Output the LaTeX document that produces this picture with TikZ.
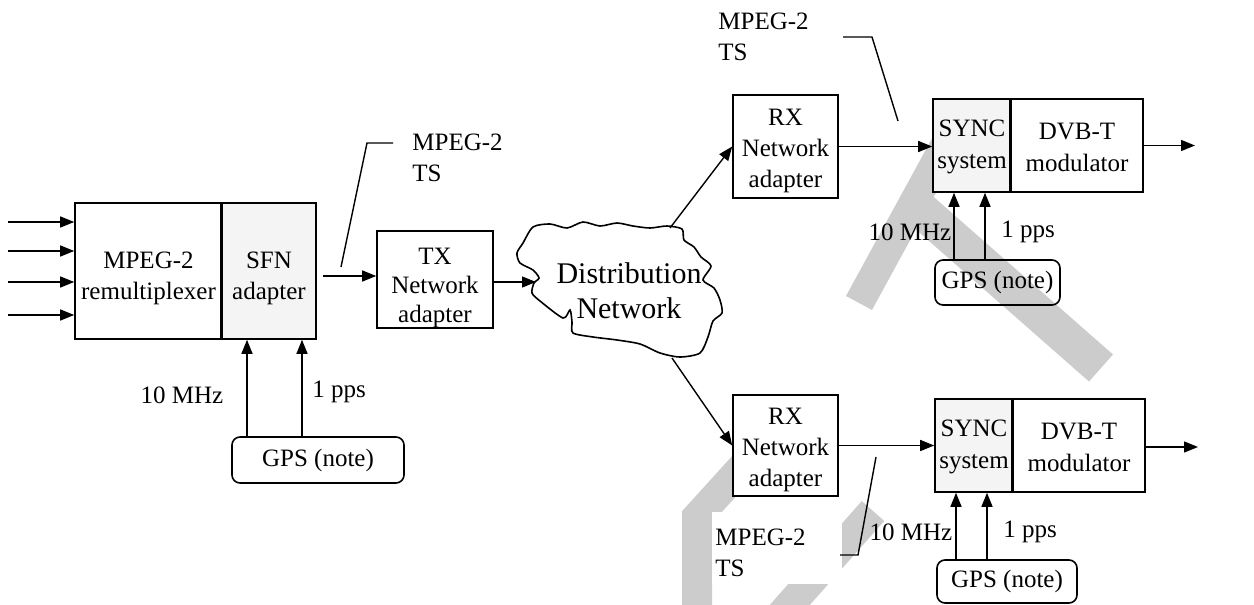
\documentclass[tikz,border=0pt]{standalone}
\usepackage{fontspec}
\setmainfont{Liberation Serif}
\usetikzlibrary{arrows.meta,calc}
\begin{document}
\begin{tikzpicture}[x=0.5pt,y=-0.5pt,
  every node/.style={font=\fontsize{12.5}{15.5}\selectfont},
  box/.style={draw, line width=0.8pt, inner sep=0pt, align=center, fill=white},
  tintbox/.style={box, fill=gray!9},
  gpsbox/.style={draw, line width=0.8pt, rounded corners=4pt, inner sep=0pt},
  arr/.style={line width=0.7pt, -{Triangle[length=7pt,width=5.5pt]}},
  lead/.style={line width=0.7pt},
  lbl/.style={inner sep=0pt},
  wmark/.style={fill=gray!40, draw=none},
  wband/.style={draw=gray!40, line width=15pt, line join=miter}]
\useasboundingbox (0,0) rectangle (1254,605);

% grey background bands
\begin{scope}
  \clip (0,0) rectangle (1254,605);
  \fill[wmark] (846,296) -- (872,310) -- (968,134) -- (942,120) -- cycle;
  \fill[wmark] (932,195.5) -- (1113,354.5) -- (1089,381.5) -- (908,222.5) -- cycle;
  \draw[wband] (776,430) -- (697,517) -- (697,610);
  \draw[wband] (873,511) -- (780,616);
\end{scope}

% head end
\node[box, minimum width=73.5pt, minimum height=68pt, text height=30.9pt] (remux) at (148.5,271) {MPEG-2\\remultiplexer};
\node[tintbox, minimum width=47pt, minimum height=68pt, text height=30.9pt] (sfn) at (269,271) {SFN\\adapter};
\draw[line width=1.1pt] (sfn.north west) -- (sfn.south west);
\node[gpsbox, minimum width=86pt, minimum height=23pt] (gpsl) at (318,460) {GPS (note)};
\node[lbl] (mhzl) at (182,395) {10 MHz};
\node[lbl] (ppsl) at (339,392) {1 pps};

\foreach \i/\y in {1/222,2/251,3/282,4/315}{
  \coordinate (in\i) at (8,\y);
  \draw[arr] (in\i) -- (in\i -| remux.west);
}
\coordinate (ckl) at (247,0);
\coordinate (pkl) at (302,0);
\draw[arr] (gpsl.north -| ckl) -- (sfn.south -| ckl);
\draw[arr] (gpsl.north -| pkl) -- (sfn.south -| pkl);

\node[box, minimum width=58pt, minimum height=48.5pt, text height=45.2pt,
      font=\fontsize{12.5}{14.5}\selectfont] (tx) at (435,279.5) {TX\\Network\\adapter};
\coordinate (tsout) at (323,276);
\draw[arr] (tsout) -- (tsout -| tx.west);

% MPEG-2 TS callout at the head end
\coordinate (l1a) at (341,267);
\coordinate (l1b) at (367,143);
\coordinate (l1c) at (393,143);
\draw[lead] (l1a) -- (l1b) -- (l1c);
\node[lbl, anchor=west, align=left] (ts1) at (412,157.5) {MPEG-2\\TS};

% distribution network cloud
\draw[line width=0.8pt] plot[smooth cycle, tension=0.45] coordinates {
  (533,227) (550,224) (567,228) (583,222) (600,226) (617,223) (633,226) (650,228)
  (667,226) (682,229) (684,240) (694,247) (701,257) (711,266) (703,280) (714,288)
  (720,300) (722,313) (713,321) (708,337) (700,353) (680,357) (660,353) (640,344)
  (617,340) (593,337) (573,333) (572,322) (570,310) (563,318) (540,301) (532,293)
  (534,283) (539,278) (533,270) (520,263) (517,253) (523,243)};
\node[align=center, inner sep=0pt, font=\fontsize{15}{17.5}\selectfont] (dist) at (629,291) {Distribution\\Network};
\coordinate (cin) at (536,282);
\draw[arr] (tx.east |- cin) -- (cin);

% upper transmitter
\node[box, minimum width=52.5pt, minimum height=51.5pt, text height=43.4pt] (rxt) at (785.5,146.5) {RX\\Network\\adapter};
\node[tintbox, minimum width=39pt, minimum height=46.5pt, font=\fontsize{12.5}{16}\selectfont, text height=26pt] (synct) at (972,145.5) {SYNC\\system};
\node[box, minimum width=66pt, minimum height=46.5pt, font=\fontsize{12.5}{16}\selectfont, text height=26pt] (dvbt) at (1077,145.5) {DVB-T\\modulator};
\draw[line width=1.3pt] (dvbt.north west) -- (dvbt.south west);
\node[gpsbox, minimum width=62.5pt, minimum height=22.5pt] (gpst) at (997.5,282.5) {GPS (note)};
\node[lbl] (mhzt) at (910,232) {10 MHz};
\node[lbl] (ppst) at (1028,232) {1 pps};
\coordinate (cup) at (670,228);
\draw[arr] (cup) -- (rxt.west);
\draw[arr] (rxt.east) -- (rxt.east -| synct.west);
\coordinate (outt) at (1195,145.5);
\draw[arr] (dvbt.east) -- (outt);
\coordinate (ckt) at (954,0);
\coordinate (pkt) at (985,0);
\draw[arr] (gpst.north -| ckt) -- (synct.south -| ckt);
\draw[arr] (gpst.north -| pkt) -- (synct.south -| pkt);
\coordinate (l2a) at (898,121);
\coordinate (l2b) at (872,37);
\coordinate (l2c) at (843,37);
\draw[lead] (l2a) -- (l2b) -- (l2c);
\node[lbl, anchor=west, align=left] (ts2) at (718,37) {MPEG-2\\TS};

% lower transmitter
\node[box, minimum width=52.5pt, minimum height=50.5pt, text height=43.4pt] (rxb) at (785.5,445.5) {RX\\Network\\adapter};
\node[tintbox, minimum width=39pt, minimum height=46.5pt, font=\fontsize{12.5}{16}\selectfont, text height=26pt] (syncb) at (974,445.5) {SYNC\\system};
\node[box, minimum width=66pt, minimum height=46.5pt, font=\fontsize{12.5}{16}\selectfont, text height=26pt] (dvbb) at (1079,445.5) {DVB-T\\modulator};
\draw[line width=1.3pt] (dvbb.north west) -- (dvbb.south west);
\node[gpsbox, minimum width=70pt, minimum height=21.5pt] (gpsb) at (1007,581.5) {GPS (note)};
\node[lbl] (mhzb) at (911,532) {10 MHz};
\node[lbl] (ppsb) at (1030,532) {1 pps};
\coordinate (cdn) at (672,358);
\draw[arr] (cdn) -- (rxb.west);
\draw[arr] (rxb.east) -- (rxb.east -| syncb.west);
\coordinate (outb) at (1198,447);
\draw[arr] (dvbb.east |- outb) -- (outb);
\coordinate (ckb) at (956,0);
\coordinate (pkb) at (987,0);
\draw[arr] (gpsb.north -| ckb) -- (syncb.south -| ckb);
\draw[arr] (gpsb.north -| pkb) -- (syncb.south -| pkb);
\node[lbl, fill=white, anchor=west, align=left, text width=62pt, inner xsep=1.5pt,
      minimum height=36pt, text height=13.4pt] (ts3) at (712,548) {MPEG-2\\TS};
\coordinate (l3a) at (876,457);
\coordinate (l3b) at (858,555);
\coordinate (l3c) at (840,555);
\draw[lead] (l3a) -- (l3b) -- (l3c);
\end{tikzpicture}
\end{document}
